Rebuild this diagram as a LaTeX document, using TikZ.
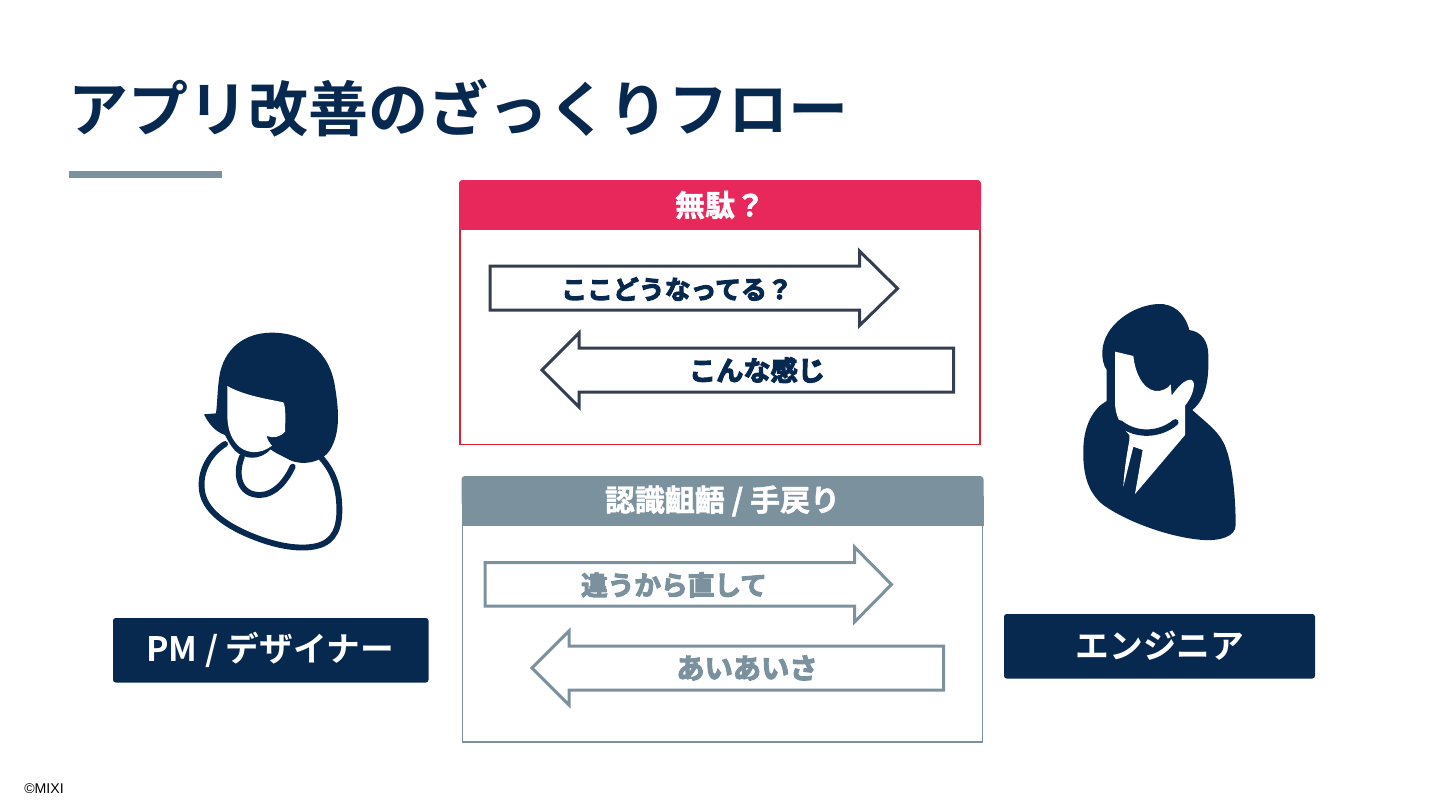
\documentclass[tikz,border=0pt]{standalone}
\usepackage{fontspec}
\setmainfont{Noto Sans CJK JP}
\newfontfamily\jpbold{Noto Sans CJK JP Bold}
\newfontfamily\jpfat[FakeBold=4]{Noto Sans CJK JP Bold}
\newfontfamily\jpsemi[FakeBold=1.5]{Noto Sans CJK JP Bold}
\newfontfamily\copyfont{Liberation Sans}
\definecolor{navy}{HTML}{08294F}
\definecolor{slate}{HTML}{7B919E}
\definecolor{crimson}{HTML}{E8285B}
\definecolor{boxred}{HTML}{E0202A}
\definecolor{arrowdark}{HTML}{333F50}
\tikzset{
  headtext/.style={text=white,font=\jpsemi\fontsize{22.5pt}{24pt}\selectfont,inner sep=0pt},
  arrowtext/.style={inner sep=0pt},
  rolebox/.style={fill=navy,rounded corners=2pt,draw=none},
  roletext/.style={text=white,font=\jpbold\fontsize{25.3pt}{28pt}\selectfont,inner sep=0pt},
  flowarrow/.style={fill=white,line width=2.25pt,line join=miter},
  ink/.style={fill=navy,draw=none}
}
\begin{document}
\begin{tikzpicture}[x=0.75pt,y=-0.75pt]
\useasboundingbox (0,0) rectangle (1440,810);
\fill[white] (0,0) rectangle (1440,810);

% title
\node[anchor=west,inner sep=0pt,text=navy,font=\jpbold\fontsize{45pt}{48pt}\selectfont] (title) at (68,108.5) {アプリ改善のざっくりフロー};
\fill[slate] (69,171) rectangle (222,177.5);

% red panel
\draw[boxred,line width=1.4pt,fill=white] (460,215) -- (460,444.5) -- (980,444.5) -- (980,215);
\fill[crimson,rounded corners=2.5pt] (459,210) -- (459,180) -- (981,180) -- (981,210) -- cycle;
\fill[crimson] (459,200) rectangle (981,230);
\node[headtext] (waste) at (720,205) {無駄？};
\draw[flowarrow,draw=arrowdark] (490,266) -- (859.5,266) -- (859.5,251) -- (897.5,288.5) -- (859.5,325.5) -- (859.5,310) -- (490,310) -- cycle;
\node[arrowtext,text=navy,font=\jpfat\fontsize{19.4pt}{22pt}\selectfont] (ask) at (677,289) {ここどうなってる？};
\draw[flowarrow,draw=arrowdark] (953.5,348) -- (579,348) -- (579,333) -- (542,370) -- (579,407) -- (579,392) -- (953.5,392) -- cycle;
\node[arrowtext,text=navy,font=\jpfat\fontsize{20.4pt}{22pt}\selectfont] (reply) at (757,370) {こんな感じ};

% grey panel
\draw[slate,line width=1.4pt,fill=white] (462.5,510) -- (462.5,742) -- (982.5,742) -- (982.5,510);
\fill[slate,rounded corners=2.5pt] (461.5,506) -- (461.5,476) -- (983.5,476) -- (983.5,506) -- cycle;
\fill[slate] (461.5,496) rectangle (983.5,526);
\node[headtext] (gap) at (722.5,501) {認識齟齬 / 手戻り};
\draw[flowarrow,draw=slate] (485,562.5) -- (854.5,562.5) -- (854.5,547) -- (891.5,584.5) -- (854.5,622) -- (854.5,606) -- (485,606) -- cycle;
\node[arrowtext,text=slate,font=\jpfat\fontsize{20pt}{22pt}\selectfont] (fix) at (674,585) {違うから直して};
\draw[flowarrow,draw=slate] (943.5,646) -- (569,646) -- (569,631) -- (532,668) -- (569,705) -- (569,690) -- (943.5,690) -- cycle;
\node[arrowtext,text=slate,font=\jpfat\fontsize{21.2pt}{23pt}\selectfont] (ok) at (747,668) {あいあいさ};

% role labels
\fill[rolebox] (113,618) rectangle (428.5,682.5);
\node[roletext] (pm) at (270,650) {PM / デザイナー};
\fill[rolebox] (1004,614) rectangle (1315,678.5);
\node[roletext] (eng) at (1160,645.5) {エンジニア};

% copyright
\node[anchor=west,inner sep=0pt,font=\copyfont\fontsize{10.6pt}{12pt}\selectfont,text=black] (copy) at (24,789) {©MIXI};

% woman
\begin{scope}[shift={(180,320)},x=0.25pt,y=-0.25pt]
  \draw[navy,line width=4.4pt,line cap=round] (135,372) .. controls (90,400) and (62,450) .. (65,500)
     .. controls (66,560) and (120,610) .. (220,650)
     .. controls (290,678) and (360,690) .. (410,678)
     .. controls (465,665) and (480,620) .. (478,560)
     .. controls (476,500) and (460,455) .. (425,415);
  \draw[navy,line width=4.4pt,line cap=round] (186,410) .. controls (165,460) and (175,525) .. (240,525)
     .. controls (285,525) and (320,480) .. (338,440);
  \fill[ink] (72,283) -- (108,280) .. controls (112,250) and (112,210) .. (118,170)
     .. controls (130,90) and (190,38) .. (275,38)
     .. controls (380,38) and (450,100) .. (465,200)
     .. controls (478,280) and (480,340) .. (450,390)
     .. controls (425,430) and (360,440) .. (320,415)
     .. controls (290,400) and (280,395) .. (272,388)
     .. controls (240,422) and (195,420) .. (165,392)
     .. controls (150,375) and (140,355) .. (135,345)
     .. controls (105,335) and (85,310) .. (72,283) -- cycle;
  \fill[white] (142,198) .. controls (190,225) and (250,235) .. (310,247)
     .. controls (318,260) and (316,300) .. (315,335)
     .. controls (300,352) and (280,355) .. (260,348)
     .. controls (262,360) and (270,370) .. (276,377)
     .. controls (240,405) and (195,402) .. (170,372)
     .. controls (150,350) and (143,320) .. (142,290) -- cycle;
\end{scope}

% man
\begin{scope}[shift={(1070,295)},x=0.25pt,y=-0.25pt]
  \fill[ink] (97,170) .. controls (100,90) and (190,30) .. (265,27)
     .. controls (310,25) and (345,55) .. (358,105)
     .. controls (395,110) and (415,140) .. (415,180)
     .. controls (417,250) and (410,310) .. (367,345)
     .. controls (410,385) and (450,410) .. (468,460)
     .. controls (490,520) and (497,620) .. (497,690)
     .. controls (497,725) and (450,738) .. (400,735)
     .. controls (300,728) and (170,680) .. (100,630)
     .. controls (50,590) and (38,530) .. (40,460)
     .. controls (42,390) and (70,340) .. (110,318)
     -- (110,225) .. controls (100,210) and (96,190) .. (97,170) -- cycle;
  \fill[white] (135,170) -- (190,183) .. controls (195,230) and (215,280) .. (255,288)
     .. controls (275,290) and (295,280) .. (302,268)
     -- (305,302) .. controls (320,280) and (345,250) .. (365,255)
     .. controls (380,262) and (368,305) .. (345,332)
     -- (345,420) -- (195,597) -- (218,465) -- (190,455) -- (160,575)
     .. controls (162,530) and (170,480) .. (178,437)
     -- (178,420) .. controls (150,390) and (135,360) .. (135,320) -- cycle;
  \draw[navy,line width=4.8pt,line cap=round] (150,385) .. controls (200,425) and (270,420) .. (316,382);
\end{scope}
\end{tikzpicture}
\end{document}
